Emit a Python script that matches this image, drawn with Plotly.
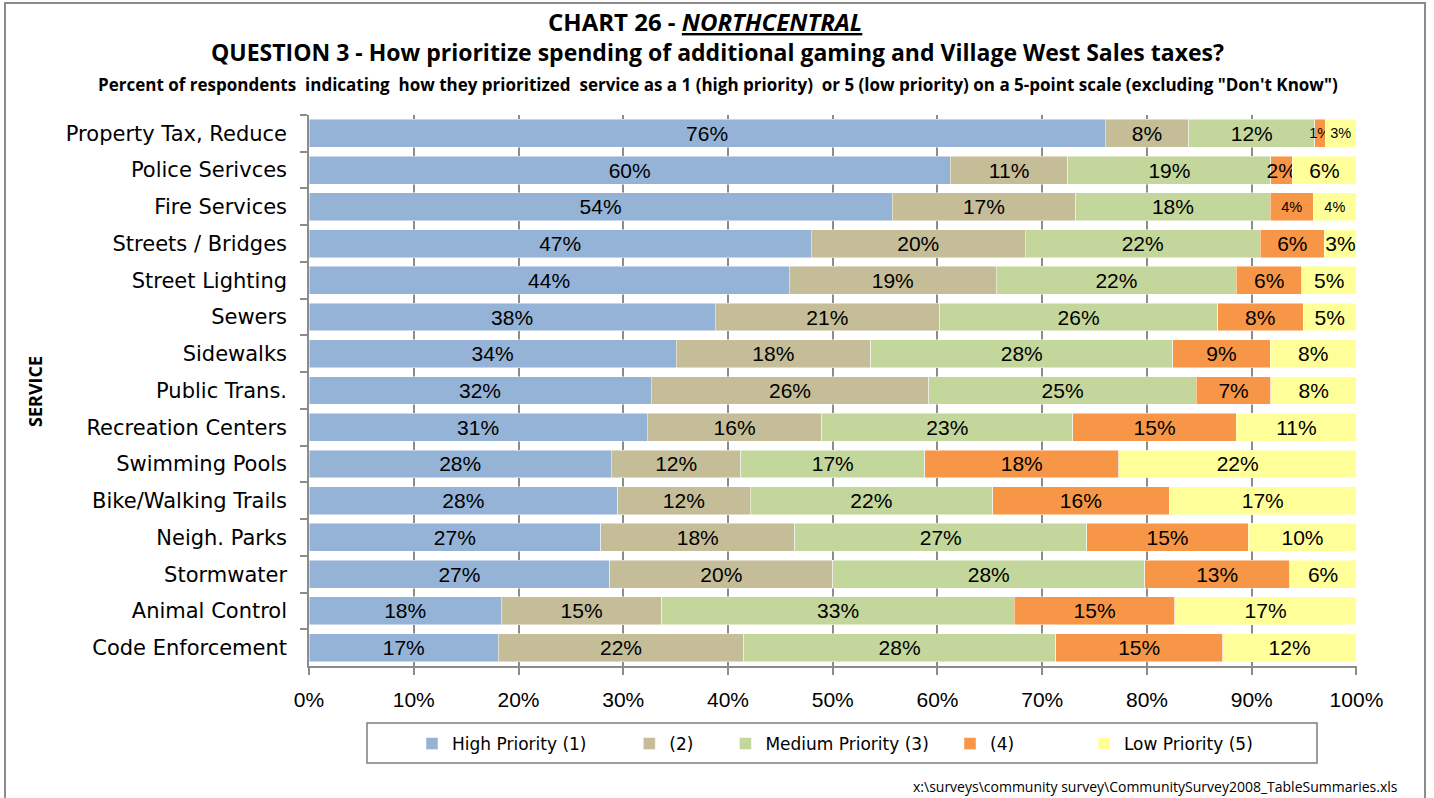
import plotly.graph_objects as go

services = ["Property Tax, Reduce", "Police Serivces", "Fire Services", "Streets / Bridges",
            "Street Lighting", "Sewers", "Sidewalks", "Public Trans.", "Recreation Centers",
            "Swimming Pools", "Bike/Walking Trails", "Neigh. Parks", "Stormwater",
            "Animal Control", "Code Enforcement"]

high_1 = [76, 60, 54, 47, 44, 38, 34, 32, 31, 28, 28, 27, 27, 18, 17]
p2     = [8, 11, 17, 20, 19, 21, 18, 26, 16, 12, 12, 18, 20, 15, 22]
med_3  = [12, 19, 18, 22, 22, 26, 28, 25, 23, 17, 22, 27, 28, 33, 28]
p4     = [1, 2, 4, 6, 6, 8, 9, 7, 15, 18, 16, 15, 13, 15, 15]
low_5  = [3, 6, 4, 3, 5, 5, 8, 8, 11, 22, 17, 10, 6, 17, 12]

series_names = ["High Priority (1)", "(2)", "Medium Priority (3)", "(4)", "Low Priority (5)"]
series_vals = [high_1, p2, med_3, p4, low_5]
colors = ["#95B3D7", "#C4BD97", "#C3D69B", "#F79646", "#FFFF99"]

x_ticks = [0, 10, 20, 30, 40, 50, 60, 70, 80, 90, 100]
x_tick_labels = ["0%", "10%", "20%", "30%", "40%", "50%", "60%", "70%", "80%", "90%", "100%"]

# styling only: label size exceptions and legend spacing
small_label_cells = {(0, 3), (0, 4), (2, 3), (2, 4)}  # (row, series)
legend_pad = [7, 5, 3, 12, 0]

FONT = "Liberation Sans, Arial, sans-serif"
WFONT = "DejaVu Sans, sans-serif"
TFONT = "Open Sans, sans-serif"

L, R, T, B = 309, 1357, 115, 666
PW, PH = R - L, B - T


def px(x):
    return (x - L) / PW


def py(y):
    return (B - y) / PH


fig = go.Figure()
for si, (name, vals, col) in enumerate(zip(series_names, series_vals, colors)):
    sizes = [14.5 if (ri, si) in small_label_cells else 21 for ri in range(len(services))]
    fig.add_trace(go.Bar(
        y=services, x=vals, name=name + "\u00a0" * legend_pad[si], orientation="h",
        marker=dict(color=col, line=dict(color="rgba(255,255,255,0.6)", width=0.8)),
        text=[f"{v}%" for v in vals], textposition="inside", textangle=0,
        insidetextanchor="middle", constraintext="none",
        textfont=dict(family=FONT, size=sizes, color="black"),
        hoverinfo="skip",
    ))

fig.update_layout(
    barmode="stack", barnorm="percent", bargap=0.24,
    width=1434, height=798,
    margin=dict(l=L, r=1434 - R, t=T, b=798 - B),
    paper_bgcolor="white", plot_bgcolor="white",
    font=dict(family=FONT, color="black"),
    showlegend=True,
    legend=dict(orientation="h", x=px(412), xanchor="left", y=py(726), yanchor="top",
                borderwidth=0, bgcolor="rgba(0,0,0,0)",
                font=dict(family=WFONT, size=17), traceorder="normal",
                itemwidth=30),
    xaxis=dict(range=[0, 100.05], tickvals=x_ticks, ticktext=x_tick_labels,
               showgrid=True, gridcolor="#8c8c8c", gridwidth=1.5,
               showline=True, linecolor="#8c8c8c", linewidth=1.5,
               ticks="outside", ticklen=7, tickcolor="#8c8c8c", tickwidth=1.5,
               tickfont=dict(family=FONT, size=21), ticklabelstandoff=7,
               zeroline=False, fixedrange=True),
    yaxis=dict(autorange="reversed", showline=True, linecolor="#8c8c8c", linewidth=1.5,
               ticks="outside", ticklen=7, tickcolor="#8c8c8c", tickwidth=1.5,
               tickson="boundaries", tickfont=dict(family=WFONT, size=21),
               ticklabelstandoff=16, showgrid=False, fixedrange=True),
)

anns = [
    dict(text="<b>CHART 26 - <i><u>NORTHCENTRAL</u></i></b>", x=705, y=22, size=24),
    dict(text="<b>QUESTION 3 - How prioritize spending of additional gaming and Village West Sales taxes?</b>",
         x=717, y=52, size=23),
    dict(text="<b>Percent of respondents\u00a0 indicating\u00a0 how they prioritized\u00a0 service as a 1 (high priority)\u00a0 or 5 (low priority) on a 5-point scale (excluding \"Don't Know\")</b>",
         x=718, y=85, size=17),
]
for a in anns:
    fig.add_annotation(text=a["text"], xref="paper", yref="paper",
                       x=px(a["x"]), y=py(a["y"]),
                       xanchor="center", yanchor="middle", showarrow=False,
                       font=dict(family=TFONT, size=a["size"], color="black"))

fig.add_annotation(text="<b>SERVICE</b>", xref="paper", yref="paper",
                   x=px(35), y=py(392), textangle=-90,
                   xanchor="center", yanchor="middle", showarrow=False,
                   font=dict(family=TFONT, size=18, color="black"))
fig.add_annotation(text="x:\\surveys\\community survey\\CommunitySurvey2008_TableSummaries.xls",
                   xref="paper", yref="paper", x=px(1400), y=py(786),
                   xanchor="right", yanchor="middle", showarrow=False,
                   font=dict(family=TFONT, size=14, color="black"))

# legend frame
fig.add_shape(type="rect", xref="paper", yref="paper",
              x0=px(367), x1=px(1317), y0=py(763), y1=py(723),
              line=dict(color="#7f7f7f", width=1.5), fillcolor="white", layer="below")
# outer chart border
fig.add_shape(type="rect", xref="paper", yref="paper",
              x0=px(5), x1=px(1425), y0=py(805), y1=py(3),
              line=dict(color="#8c8c8c", width=2), fillcolor="rgba(0,0,0,0)", layer="below")

fig.write_html("out.html", config={"displayModeBar": False},
               post_script="document.body.style.margin='0';")
